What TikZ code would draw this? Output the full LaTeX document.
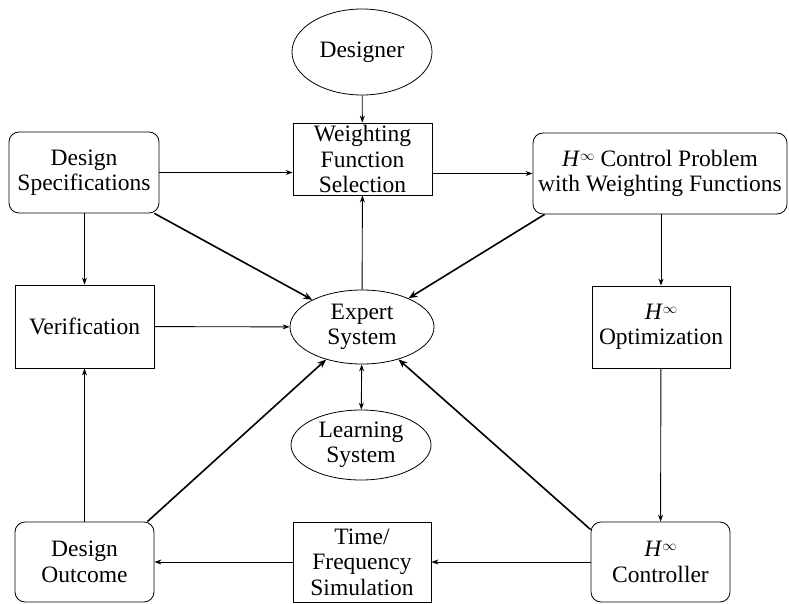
\documentclass[tikz,border=0pt]{standalone}
\usepackage{fontspec}
\setmainfont{Liberation Serif}
\usetikzlibrary{arrows.meta,shapes.geometric}
\tikzset{
block/.style={draw,line width=.8pt,minimum width=139pt,minimum height=80pt,inner sep=0pt,align=center,font=\fontsize{23.5}{25.5}\selectfont},
roundblock/.style={block,rounded corners=10pt},
oval/.style={draw,ellipse,line width=.8pt,inner sep=0pt,align=center,font=\fontsize{23.5}{25.5}\selectfont},
flow/.style={-{Stealth[length=7pt,width=5pt]},line width=.9pt},
bigflow/.style={-{Stealth[length=9pt,width=7pt]},line width=1.6pt},
twoway/.style={{Stealth[length=7pt,width=5pt]}-{Stealth[length=7pt,width=5pt]},line width=.9pt}
}
\newcommand{\Hinf}{\textit{H}\raisebox{.55ex}{\fontsize{14}{14}\selectfont$\infty$}}
\begin{document}
\begin{tikzpicture}[x=1pt,y=-1pt]
\useasboundingbox (0,0) rectangle (789,604);
\node[oval,minimum width=140pt,minimum height=86pt](designer)at(362,52){Designer};
\node[block,minimum height=72pt](wfs)at(362.5,159){Weighting\\Function\\Selection};
\node[roundblock,minimum width=150pt,minimum height=81pt](spec)at(84,172.5){Design\\Specifications};
\node[roundblock,minimum width=254pt,minimum height=81pt](hprob)at(660,173.5){\Hinf{} Control Problem\\with Weighting Functions};
\node[block,minimum height=83pt](verif)at(84.5,326.5){Verification};
\node[oval,minimum width=144pt,minimum height=74pt](expert)at(362,327){Expert\\System};
\node[block,minimum width=138pt,minimum height=82pt](hopt)at(661,327){\Hinf\\Optimization};
\node[oval,minimum width=140pt,minimum height=70pt](learn)at(361,445){Learning\\System};
\node[roundblock](outcome)at(84.5,562){Design\\Outcome};
\node[block,minimum width=138pt](sim)at(362,562){Time/\\Frequency\\Simulation};
\node[roundblock](hctrl)at(660.5,562){\Hinf\\Controller};
\draw[flow](designer)--(wfs);\draw[flow](spec.east)--(spec.east-|wfs.west);\draw[flow](wfs.east|-hprob.west)--(hprob.west);
\draw[flow](spec.south-|verif.north)--(verif.north);\draw[flow](verif)--(expert);\draw[flow](expert)--(wfs);
\draw[flow](hprob.south-|hopt.north)--(hopt.north);\draw[flow](hopt)--(hctrl);
\draw[flow](hctrl)--(sim);\draw[flow](sim)--(outcome);\draw[flow](outcome)--(verif);
\draw[twoway](expert)--(learn);
\draw[bigflow]([xshift=-5pt]spec.south east)--(expert);
\draw[bigflow]([xshift=12pt]hprob.south west)--(expert);
\draw[bigflow]([xshift=-7pt]outcome.north east)--(expert);
\draw[bigflow]([yshift=-8pt]hctrl.north west)--(expert);
\end{tikzpicture}
\end{document}
